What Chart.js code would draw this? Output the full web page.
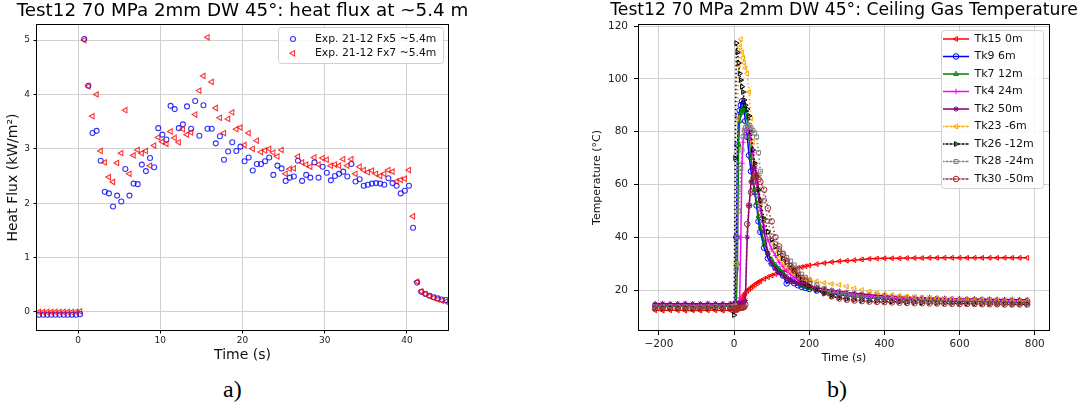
<!DOCTYPE html>
<html>
<head>
<meta charset="utf-8">
<script src="https://cdn.jsdelivr.net/npm/chart.js@4.4.1/dist/chart.umd.min.js"></script>
<style>
html,body{margin:0;padding:0;background:#fff;width:1080px;height:405px;overflow:hidden;position:relative;}
#wa{position:absolute;left:0;top:0;width:485px;height:372px;}
#wb{position:absolute;left:560px;top:0;width:568px;height:372px;}
.lab{position:absolute;font-family:"Liberation Serif","DejaVu Serif",serif;font-size:24px;color:#000;top:375px;line-height:28px;}
</style>
</head>
<body>
<div id="wa"><canvas id="ca"></canvas></div>
<div id="wb"><canvas id="cb"></canvas></div>
<div class="lab" style="left:223px">a)</div>
<div class="lab" style="left:827px">b)</div>
<script>
// ---------------- Chart a) heat flux ----------------
const fluxTime = [-4.75,-4.25,-3.75,-3.25,-2.75,-2.25,-1.75,-1.25,-0.75,-0.25,0.25,
  0.75,1.25,1.75,2.25,2.75,3.25,3.75,4.25,4.75,5.25,5.75,6.25,6.75,7.25,7.75,8.25,8.75,9.25,9.75,
  10.25,10.75,11.25,11.75,12.25,12.75,13.25,13.75,14.25,14.75,15.25,15.75,16.25,16.75,17.25,17.75,18.25,18.75,19.25,19.75,
  20.25,20.75,21.25,21.75,22.25,22.75,23.25,23.75,24.25,24.75,25.25,25.75,26.25,26.75,27.25,27.75,28.25,28.75,29.25,29.75,
  30.25,30.75,31.25,31.75,32.25,32.75,33.25,33.75,34.25,34.75,35.25,35.75,36.25,36.75,37.25,37.75,38.25,38.75,39.25,39.75,
  40.25,40.75,41.25,41.75,42.25,42.75,43.25,43.75,44.25,44.75];
const fx5 = [-0.05,-0.05,-0.05,-0.05,-0.05,-0.05,-0.05,-0.05,-0.05,-0.05,-0.04,
  5.02,4.16,3.29,3.33,2.78,2.21,2.18,1.94,2.14,2.03,2.63,2.14,2.36,2.35,2.71,2.59,2.83,2.66,3.38,
  3.26,3.17,3.79,3.73,3.38,3.45,3.78,3.37,3.88,3.24,3.80,3.37,3.37,3.10,3.23,2.80,2.95,3.12,2.96,3.04,
  2.77,2.84,2.60,2.72,2.72,2.77,2.84,2.52,2.69,2.64,2.41,2.47,2.49,2.78,2.41,2.52,2.47,2.75,2.47,2.67,
  2.56,2.42,2.50,2.54,2.58,2.49,2.72,2.40,2.44,2.32,2.34,2.36,2.37,2.36,2.34,2.46,2.37,2.32,2.18,2.23,
  2.32,1.55,0.54,0.37,0.33,0.30,0.27,0.25,0.23,0.22];
const fx7 = [0.00,0.00,0.00,0.00,0.00,0.00,0.00,0.00,0.00,0.00,0.01,
  5.00,4.15,3.60,4.00,2.96,2.75,2.48,2.39,2.74,2.92,3.71,2.54,2.88,2.98,2.92,2.96,2.69,3.06,3.21,
  3.13,3.09,3.32,3.20,3.12,3.36,3.26,3.30,3.63,4.07,4.34,5.05,4.23,3.75,3.57,3.29,3.55,3.67,3.36,3.39,
  3.07,3.29,3.00,3.15,2.94,2.97,3.00,2.93,2.86,2.98,2.54,2.63,2.64,2.86,2.75,2.71,2.67,2.84,2.71,2.83,
  2.80,2.69,2.71,2.69,2.81,2.69,2.81,2.54,2.67,2.61,2.57,2.60,2.54,2.50,2.54,2.61,2.58,2.40,2.43,2.45,
  2.61,1.76,0.56,0.38,0.33,0.29,0.26,0.23,0.21,0.19];
const fluxLabels = ['Exp. 21-12 Fx5 ~5.4m', 'Exp. 21-12 Fx7 ~5.4m'];
const fluxXTicks = [0, 10, 20, 30, 40];
const fluxYTicks = [0, 1, 2, 3, 4, 5];

// ---------------- Chart b) ceiling gas temperature ----------------
const tempTime = [-210,-190,-170,-150,-130,-110,-90,-70,-50,-30,-10,0,
  3,6,9,12,15,18,21,24,27,30,35,40,45,50,55,60,65,70,
  80,90,100,110,120,130,140,150,160,170,180,190,200,
  220,240,260,280,300,320,340,360,380,400,420,440,460,480,500,520,540,560,580,600,620,640,660,680,700,720,740,760,780];
const tk15 = [12.3,12.2,12.3,12.3,12.2,12.3,12.2,12.3,12.3,12.2,12.3,12.3,
  12.3,12.4,12.6,13.4,14.7,15.8,16.7,17.5,18.2,18.8,19.6,20.3,20.9,21.5,22.0,22.5,23.0,23.4,
  24.2,24.9,25.5,26.0,26.5,26.9,27.3,27.7,28.1,28.4,28.7,29.0,29.3,
  29.8,30.2,30.6,30.9,31.1,31.3,31.6,31.8,31.9,32.0,32.0,32.0,32.1,32.1,32.1,32.2,32.2,32.2,32.2,32.2,32.2,32.2,32.2,32.2,32.2,32.2,32.2,32.2,32.2];
const tk9 = [14.0,14.1,14.0,14.0,14.1,14.0,14.0,14.1,14.0,14.0,14.0,14.0,
  14.5,40,75,86,88,90,91.5,90.5,88,84,78,71,65,61,57,52,46,42,
  36,32,30,28.5,27,25.5,22.5,23.5,22.6,21.8,21.2,20.8,20.4,
  19.8,19.2,18.7,18.3,17.9,17.6,17.3,17.1,16.9,16.7,16.5,16.4,16.3,16.2,16.1,16.0,15.9,15.9,15.8,15.8,15.7,15.7,15.6,15.6,15.6,15.5,15.5,15.5,15.5];
const tk7 = [13.8,13.7,13.8,13.9,13.8,13.7,13.8,13.8,13.9,13.8,13.8,13.8,
  14.0,14.2,30,75,84,87,88,89,88.5,88,85,78,70,63,58,53,48,44,
  38,34,31.5,29.5,28,26.5,25,24,23,22.3,21.6,21,20.6,
  20.0,19.4,18.9,18.5,18.1,17.8,17.5,17.3,17.1,16.9,16.7,16.6,16.5,16.4,16.3,16.2,16.1,16.0,16.0,15.9,15.9,15.8,15.8,15.7,15.7,15.7,15.6,15.6,15.6];
const tk4 = [14.3,14.3,14.4,14.3,14.3,14.2,14.3,14.3,14.4,14.3,14.3,14.3,
  14.3,14.4,14.6,15,17,40,68,76,79,80.5,81,80.5,77,72,66,60,55,50,
  44,39,35.5,33,30.5,29,27.5,26,24.8,23.8,23,22.2,21.6,
  20.8,20.1,19.5,19.0,18.6,18.2,17.9,17.6,17.4,17.2,17.0,16.9,16.8,16.7,16.6,16.5,16.4,16.3,16.3,16.2,16.2,16.1,16.1,16.0,16.0,16.0,15.9,15.9,15.9];
const tk2 = [14.8,14.9,14.8,14.8,14.9,14.8,14.8,14.9,14.8,14.8,14.8,14.8,
  14.8,14.8,14.8,14.9,14.9,15.0,15.0,15.1,15.2,16.0,40,52,61,66,67,64,58,53,
  42,34,30,28,26.5,25.5,24.5,23.8,23.2,22.7,22.3,21.9,21.5,
  20.9,20.4,19.9,19.5,19.1,18.8,18.5,18.2,18.0,17.8,17.6,17.4,17.3,17.2,17.1,17.0,16.9,16.8,16.7,16.7,16.6,16.6,16.5,16.5,16.4,16.4,16.4,16.3,16.3];
const tk23 = [13.5,13.5,13.6,13.5,13.5,13.4,13.5,13.5,13.6,13.5,13.5,13.5,
  14,30,85,105,112,115,110,108,106,104,102,95,85,76,68,63,58,53,
  47,42,38,35,32,30,28.5,27,26,25.3,24.8,24.3,23.9,
  23.3,22.7,22.3,22.0,21.3,20.6,20.0,19.4,18.9,18.5,18.1,17.8,17.5,17.3,17.1,16.9,16.7,16.6,16.5,16.4,16.3,16.2,16.1,16.0,16.0,15.9,15.9,15.8,15.8];
const tk26 = [13.2,13.2,13.3,13.2,13.2,13.1,13.2,13.2,13.3,13.2,13.2,10.5,
  70,113.5,110,106,102,99.5,97,95,92,90,88.5,86,80,73,68,63,58,54,
  47,42,39,36.5,34,32,30.5,29.5,27.5,25.5,24,22.5,21.5,
  20.0,18.6,17.6,17.0,16.6,16.3,16.1,15.9,15.8,15.7,15.6,15.5,15.4,15.3,15.2,15.2,15.1,15.0,15.0,14.9,14.9,14.8,14.8,14.7,14.7,14.7,14.6,14.6,14.6];
const tk28 = [13.6,13.6,13.7,13.6,13.6,13.5,13.6,13.6,13.7,13.6,13.6,13.6,
  14,28,40,50,58,66,73,78,80.5,81.5,82.5,82.3,81.5,80.5,79.5,78,72,65,
  54,46,40.5,37.5,35.5,34,32.3,31,29.5,27.5,26,24.8,23.8,
  22.0,20.6,19.6,18.9,18.3,17.8,17.4,17.1,16.8,16.6,16.4,16.2,16.0,15.9,15.8,15.7,15.6,15.5,15.4,15.4,15.3,15.3,15.2,15.2,15.1,15.1,15.1,15.0,15.0];
const tk30 = [13.0,13.0,13.1,13.0,13.0,12.9,13.0,13.0,13.1,13.0,13.0,13.0,
  13.0,13.0,13.1,13.1,13.2,13.2,13.3,13.4,13.6,14.5,45,52,57,61,63,63,62,61,
  58,51,46,40,36.5,33.5,31,29,27.3,25.8,24.5,23.3,22.3,
  20.5,19.0,17.6,16.8,16.3,16.0,15.8,15.6,15.5,15.4,15.3,15.2,15.1,15.0,15.0,14.9,14.9,14.8,14.8,14.7,14.7,14.7,14.6,14.6,14.6,14.5,14.5,14.5,14.5];
const tempLabels = ['Tk15 0m','Tk9 6m','Tk7 12m','Tk4 24m','Tk2 50m','Tk23 -6m','Tk26 -12m','Tk28 -24m','Tk30 -50m'];
const tempSeries = [tk15, tk9, tk7, tk4, tk2, tk23, tk26, tk28, tk30];
const tempXTicks = [-200, 0, 200, 400, 600, 800];
const tempYTicks = [20, 40, 60, 80, 100, 120];

// ---------------- styling ----------------
const FONT = '"DejaVu Sans", "Liberation Sans", sans-serif';
const tempStyle = [
  {c:'#ff0000', s:'triangle', r:-90, dash:[]},
  {c:'#0000ff', s:'circle',   r:0,   dash:[]},
  {c:'#008000', s:'triangle', r:0,   dash:[]},
  {c:'#ff00ff', s:'cross',    r:0,   dash:[]},
  {c:'#800080', s:'star',     r:0,   dash:[]},
  {c:'#ffa500', s:'triangle', r:-90, dash:[1.5,2.5]},
  {c:'#000000', s:'triangle', r:90,  dash:[1.5,2.5]},
  {c:'#808080', s:'rect',     r:0,   dash:[1.5,2.5]},
  {c:'#a52a2a', s:'circle',   r:0,   dash:[1.5,2.5]}
];

const mplDecor = {
  id: 'mplDecor',
  afterLayout(chart, args, o) {
    const lg = chart.legend;
    if (!lg || !o.legendBox) return;
    const b = o.legendBox;
    lg.left = b.left; lg.top = b.top; lg.width = b.width; lg.height = b.height;
    lg.right = b.left + b.width; lg.bottom = b.top + b.height;
    if (!lg._mplWrapped) {
      const protoDraw = Object.getPrototypeOf(lg).draw;
      lg.draw = function (area) {
        const f = chart.options.plugins.mplDecor.legendFrame;
        const ctx = chart.ctx;
        ctx.save();
        ctx.beginPath();
        if (ctx.roundRect) ctx.roundRect(f.x + 0.5, f.y + 0.5, f.w, f.h, 3);
        else ctx.rect(f.x + 0.5, f.y + 0.5, f.w, f.h);
        ctx.fillStyle = 'rgba(255,255,255,0.85)';
        ctx.fill();
        ctx.strokeStyle = '#d0d0d0';
        ctx.lineWidth = 1;
        ctx.stroke();
        ctx.restore();
        protoDraw.call(this, area);
      };
      lg._mplWrapped = true;
    }
  },
  afterDraw(chart, args, o) {
    const ctx = chart.ctx;
    const lg = chart.legend;
    if (lg && Chart.helpers && Chart.helpers.drawPoint) {
      const lo = lg.options.labels;
      const fs = lo.font.size, pad = lo.padding, bw = lo.boxWidth;
      const ih = Math.max(fs, lo.boxHeight || 0);
      lg.legendItems.forEach((it, i) => {
        const ds = chart.data.datasets[it.datasetIndex];
        const x = lg.left + pad + bw / 2;
        const y = lg.top + pad + i * (ih + pad) + ih / 2;
        ctx.save();
        ctx.setLineDash([]);
        ctx.strokeStyle = ds.pointBorderColor;
        ctx.fillStyle = 'rgba(0,0,0,0)';
        ctx.lineWidth = ds.pointBorderWidth;
        Chart.helpers.drawPoint(ctx, {pointStyle: ds.pointStyle, radius: ds.pointRadius,
          rotation: ds.pointRotation || 0, borderWidth: ds.pointBorderWidth}, x, y);
        ctx.restore();
      });
    }
    const a = chart.chartArea;
    ctx.save();
    ctx.strokeStyle = '#000';
    ctx.lineWidth = 1;
    ctx.strokeRect(Math.round(a.left) - 0.5, Math.round(a.top) - 0.5,
      Math.round(a.right - a.left) + 1, Math.round(a.bottom - a.top) + 1);
    ctx.restore();
  }
};

function fixedSize(prop, val) { return (s) => { s[prop] = val; }; }
function fixedTicks(list) { return (s) => { s.ticks = list.map(v => ({value: v})); }; }
function spacerAxis(width) {
  return {
    type: 'linear', position: 'right', display: true,
    afterFit: fixedSize('width', width),
    ticks: {display: false}, grid: {display: false, drawOnChartArea: false, drawTicks: false},
    border: {display: false}, title: {display: false}
  };
}

// ---- chart a
const fluxData = (arr) => fluxTime.map((t, i) => ({x: t, y: arr[i]}));
new Chart(document.getElementById('ca'), {
  type: 'scatter',
  data: {
    datasets: [
      {label: fluxLabels[0], data: fluxData(fx5), pointStyle: 'circle', pointRadius: 2.5,
       pointBorderWidth: 1.1, pointBorderColor: 'rgba(0,0,255,0.8)', borderColor: 'rgba(0,0,255,0.8)',
       pointBackgroundColor: 'rgba(0,0,0,0)', backgroundColor: 'rgba(0,0,0,0)', order: 1},
      {label: fluxLabels[1], data: fluxData(fx7), pointStyle: 'triangle', pointRotation: -90, pointRadius: 3.1,
       pointBorderWidth: 1.1, pointBorderColor: 'rgba(255,0,0,0.8)', borderColor: 'rgba(255,0,0,0.8)',
       pointBackgroundColor: 'rgba(0,0,0,0)', backgroundColor: 'rgba(0,0,0,0)', order: 0}
    ]
  },
  options: {
    responsive: true, maintainAspectRatio: false, animation: false,
    layout: {padding: 0},
    events: [],
    plugins: {
      title: {display: true, text: 'Test12 70 MPa 2mm DW 45°: heat flux at ~5.4 m', fullSize: true,
              color: '#000', font: {family: FONT, size: 18.3, weight: 'normal', lineHeight: 1.0},
              padding: {top: 2.55, bottom: 4.15}},
      tooltip: {enabled: false},
      legend: {
        display: true, position: 'chartArea', align: 'start',
        labels: {
          font: {family: FONT, size: 10.8}, color: '#111', boxWidth: 33.2, boxHeight: 0, padding: 3.5,
          sort: (a, b) => a.datasetIndex - b.datasetIndex,
          generateLabels(chart) {
            const items = Chart.defaults.plugins.legend.labels.generateLabels(chart);
            items.forEach(i => { i.lineWidth = 0; i.fillStyle = 'rgba(0,0,0,0)'; });
            return items;
          }
        }
      },
      mplDecor: {
        legendBox: {left: 272.9, top: 30.1, width: 180, height: 40},
        legendFrame: {x: 278, y: 27, w: 165, h: 36}
      }
    },
    scales: {
      x: {
        type: 'linear', min: -5, max: 45,
        afterFit: fixedSize('height', 42),
        afterBuildTicks: fixedTicks(fluxXTicks),
        ticks: {color: '#222', font: {family: FONT, size: 9}, padding: 1.5, maxRotation: 0, autoSkip: false},
        grid: {color: '#d0d0d0', lineWidth: 1, tickLength: 3.5, tickColor: '#000', drawTicks: true},
        border: {display: false},
        title: {display: true, text: 'Time (s)', color: '#111', font: {family: FONT, size: 14}, padding: {top: 0, bottom: 8.6}}
      },
      y: {
        type: 'linear', min: -0.331, max: 5.276,
        afterFit: fixedSize('width', 37),
        afterBuildTicks: fixedTicks(fluxYTicks),
        ticks: {color: '#222', font: {family: FONT, size: 9}, padding: 3.5, autoSkip: false},
        grid: {color: '#d0d0d0', lineWidth: 1, tickLength: 3.5, tickColor: '#000', drawTicks: true},
        border: {display: false},
        title: {display: true, text: 'Heat Flux (kW/m²)', color: '#111', font: {family: FONT, size: 14}, padding: {top: 4.6, bottom: 0}}
      },
      yRight: spacerAxis(37)
    }
  },
  plugins: [mplDecor]
});

// ---- chart b
const tempDatasets = tempSeries.map((arr, k) => {
  const st = tempStyle[k];
  return {
    label: tempLabels[k],
    data: tempTime.map((t, i) => ({x: t, y: arr[i]})),
    borderColor: st.c, backgroundColor: 'rgba(0,0,0,0)', borderWidth: 1.5, borderDash: st.dash,
    pointStyle: st.s, pointRotation: st.r, pointRadius: 2.8, pointBorderWidth: 1,
    pointBorderColor: st.c, pointBackgroundColor: 'rgba(0,0,0,0)',
    tension: 0, fill: false, order: tempSeries.length - 1 - k
  };
});
new Chart(document.getElementById('cb'), {
  type: 'line',
  data: {datasets: tempDatasets},
  options: {
    responsive: true, maintainAspectRatio: false, animation: false,
    layout: {padding: 0},
    events: [],
    plugins: {
      title: {display: true, text: 'Test12 70 MPa 2mm DW 45°: Ceiling Gas Temperature', fullSize: true,
              color: '#000', font: {family: FONT, size: 17.2, weight: 'normal', lineHeight: 1.0},
              padding: {top: 1.9, bottom: 5.9}},
      tooltip: {enabled: false},
      legend: {
        display: true, position: 'chartArea', align: 'start',
        labels: {
          font: {family: FONT, size: 11}, color: '#111', boxWidth: 26, boxHeight: 0, padding: 6.5,
          sort: (a, b) => a.datasetIndex - b.datasetIndex
        }
      },
      mplDecor: {
        legendBox: {left: 376.5, top: 27, width: 140, height: 175},
        legendFrame: {x: 381, y: 30, w: 102, h: 158}
      }
    },
    scales: {
      x: {
        type: 'linear', min: -253, max: 838,
        afterFit: fixedSize('height', 42),
        afterBuildTicks: fixedTicks(tempXTicks),
        ticks: {color: '#222', font: {family: FONT, size: 10.5}, padding: 3, maxRotation: 0, autoSkip: false,
                callback: (v) => String(v).replace('-', '\u2212')},
        grid: {color: '#d0d0d0', lineWidth: 1, tickLength: 5, tickColor: '#000', drawTicks: true},
        border: {display: false},
        title: {display: true, text: 'Time (s)', color: '#111', font: {family: FONT, size: 11}, padding: {top: 0, bottom: 6.9}}
      },
      y: {
        type: 'linear', min: 4.85, max: 120.38,
        afterFit: fixedSize('width', 79),
        afterBuildTicks: fixedTicks(tempYTicks),
        ticks: {color: '#222', font: {family: FONT, size: 10.5}, padding: 6, autoSkip: false},
        grid: {color: '#d0d0d0', lineWidth: 1, tickLength: 5, tickColor: '#000', drawTicks: true},
        border: {display: false},
        title: {display: true, text: 'Temperature (°C)', color: '#111', font: {family: FONT, size: 11}, padding: {top: 30.1, bottom: 0}}
      },
      yRight: spacerAxis(79)
    }
  },
  plugins: [mplDecor]
});
</script>
</body>
</html>
